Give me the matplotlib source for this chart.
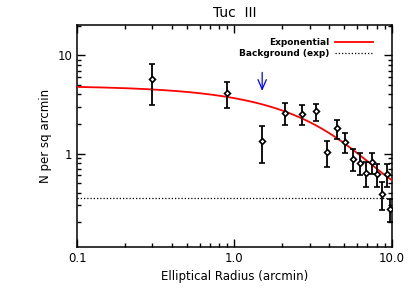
import numpy as np
import matplotlib
matplotlib.use('Agg')
import matplotlib.pyplot as plt

# binned profile
radius = [0.30, 0.90, 1.50, 2.09, 2.68, 3.30, 3.88, 4.48, 5.08, 5.69,
          6.27, 6.84, 7.50, 8.04, 8.69, 9.27, 9.80]
density = [5.7, 4.17, 1.36, 2.61, 2.53, 2.69, 1.05, 1.82, 1.32, 0.88,
           0.80, 0.635, 0.82, 0.62, 0.39, 0.615, 0.275]
err_hi = [8.2, 5.4, 1.93, 3.25, 3.1, 3.2, 1.34, 2.2, 1.64, 1.12,
          1.02, 0.82, 1.01, 0.79, 0.51, 0.79, 0.35]
err_lo = [3.15, 2.91, 0.80, 1.94, 1.97, 2.16, 0.74, 1.41, 1.02, 0.665,
          0.61, 0.454, 0.615, 0.46, 0.265, 0.46, 0.20]

# exponential fit parameters
sigma0 = 4.56
r_scale = 3.12
background = 0.353
r_arrow = 1.5

density = np.array(density)
yerr = [density - np.array(err_lo), np.array(err_hi) - density]

fig = plt.figure(figsize=(4.15, 2.97), dpi=100)
ax = fig.add_axes([0.186, 0.169, 0.758, 0.746])

r = np.logspace(-1, 1, 300)
model = sigma0 * np.exp(-r / r_scale) + background
ax.plot(r, model, color='red', lw=1.3, label='Exponential', zorder=3)
ax.axhline(background, color='black', lw=0.9, ls=(0, (1, 1.6)), label='Background (exp)')

ax.errorbar(radius, density, yerr=yerr, fmt='D', ms=3, mfc='white', mec='black',
            mew=1.2, ecolor='black', elinewidth=1.3, capsize=2.5, capthick=1.2,
            zorder=4, clip_on=True)

ax.annotate('', xy=(r_arrow, 4.07), xytext=(r_arrow, 7.15),
            arrowprops=dict(arrowstyle='->,head_width=0.3,head_length=0.7',
                            color='blue', lw=0.9))

ax.set_xscale('log')
ax.set_yscale('log')
ax.set_xlim(0.1, 10)
ax.set_ylim(0.113, 20.2)
ax.set_xticks([0.1, 1, 10])
ax.set_xticklabels(['0.1', '1.0', '10.0'])
ax.set_yticks([1, 10])
ax.set_yticklabels(['1', '10'])
ax.tick_params(which='both', direction='in', top=True, right=True, labelsize=8.5)
ax.tick_params(which='major', length=6, width=1)
ax.tick_params(which='minor', length=3, width=1)
for s in ax.spines.values():
    s.set_linewidth(1.1)

ax.set_title('Tuc  III', fontsize=10, pad=6)
ax.set_xlabel('Elliptical Radius (arcmin)', fontsize=8.5)
ax.set_ylabel('N per sq arcmin', fontsize=8.5)

leg = ax.legend(loc='upper right', bbox_to_anchor=(0.96, 0.97), frameon=False,
                markerfirst=False, fontsize=6.5, handlelength=4.2, labelspacing=0.25,
                borderpad=0.2, handletextpad=0.6)
for t in leg.get_texts():
    t.set_fontweight('semibold')

fig.savefig('out.png', dpi=100)
